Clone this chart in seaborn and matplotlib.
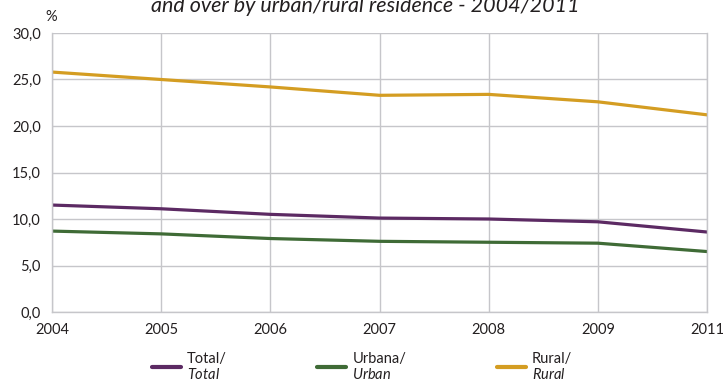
import matplotlib
matplotlib.use("Agg")
import matplotlib.pyplot as plt
import seaborn as sns
import pandas as pd
from matplotlib.lines import Line2D
from matplotlib.ticker import FuncFormatter

# Share of population by residence, in %
years = ["2004", "2005", "2006", "2007", "2008", "2009", "2011"]
total = [11.5, 11.1, 10.5, 10.1, 10.0, 9.7, 8.6]
urban = [8.7, 8.4, 7.9, 7.6, 7.5, 7.4, 6.5]
rural = [25.8, 25.0, 24.2, 23.3, 23.4, 22.6, 21.2]

series_names = ["Total", "Urbana", "Rural"]
legend_pt = ["Total/", "Urbana/", "Rural/"]
legend_en = ["Total", "Urban", "Rural"]
colors = ["#5c2a63", "#3f6b36", "#d49d22"]

sns.set_theme(style="whitegrid")
plt.rcParams["font.family"] = ["Lato", "DejaVu Sans"]
plt.rcParams["mathtext.fontset"] = "custom"
plt.rcParams["mathtext.rm"] = "Lato"
plt.rcParams["mathtext.it"] = "Lato:italic"

text_color = "#231f20"
grid_color = "#c6c6ca"

df = pd.DataFrame({
    "year": years * 3,
    "value": total + urban + rural,
    "series": [s for s, vals in zip(series_names, [total, urban, rural]) for _ in vals],
})

fig = plt.figure(figsize=(7.24, 3.82), dpi=100)
ax = fig.add_axes([52 / 724, 1 - 312 / 382, (707 - 52) / 724, (312 - 33) / 382])

sns.lineplot(data=df, x="year", y="value", hue="series", hue_order=series_names,
             palette=colors, linewidth=2.3, legend=False, ax=ax, sort=False)

ax.set_xlim(0, len(years) - 1)
ax.set_ylim(0, 30)
ax.set_yticks([0, 5, 10, 15, 20, 25, 30])
ax.yaxis.set_major_formatter(FuncFormatter(lambda v, _: f"{v:.1f}".replace(".", ",")))
ax.set_xlabel("")
ax.set_ylabel("")

ax.grid(True, color=grid_color, linewidth=1.0)
for side, sp in ax.spines.items():
    sp.set_visible(True)
    sp.set_color(grid_color)
    sp.set_linewidth(1.0)
ax.spines["top"].set_visible(False)
ax.tick_params(axis="both", length=0, labelsize=10.5, colors=text_color)
ax.tick_params(axis="y", pad=8)
ax.tick_params(axis="x", pad=8)
ax.set_facecolor("white")

fig.text(51 / 724, 1 - 17 / 382, "%", ha="center", va="center", fontsize=10.5, color=text_color)

# Second line of the chart heading; its upper part runs past the top edge
fig.text(365 / 724, 1 - 12 / 382, "and over by urban/rural residence - 2004/2011",
         ha="center", va="baseline", fontsize=15.5, style="italic", color=text_color)

handles = [Line2D([], [], color=c, linewidth=3) for c in colors]
labels = [f"{pt}\n$\\it{{{en}}}$" for pt, en in zip(legend_pt, legend_en)]
leg = fig.legend(handles, labels, loc="center left", bbox_to_anchor=(152 / 724, 1 - 367 / 382),
                 ncol=3, frameon=False, fontsize=10.5, handlelength=2.0, handletextpad=0.4,
                 columnspacing=6.2, borderpad=0, borderaxespad=0)
for t in leg.get_texts():
    t.set_color(text_color)
    t.set_linespacing(1.1)

fig.savefig("out.png", dpi=100)
